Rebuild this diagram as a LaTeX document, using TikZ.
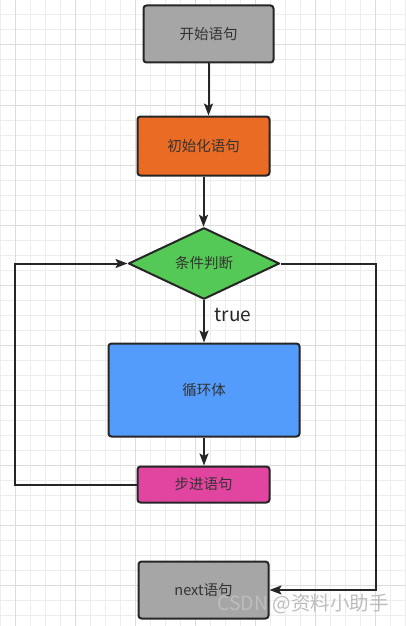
\documentclass[tikz,border=0pt]{standalone}
\usepackage{fontspec}
\newfontfamily\cjk{Noto Sans CJK SC}
\usepackage{tikz}
\usetikzlibrary{arrows.meta, shapes.geometric, calc, positioning}
\definecolor{linedark}{HTML}{262626}
\definecolor{textdark}{HTML}{333333}
\definecolor{gridminor}{HTML}{EDEDED}
\definecolor{gridmajor}{HTML}{DCDCDC}
\definecolor{startgray}{HTML}{A6A6A6}
\definecolor{initorange}{HTML}{EA6B24}
\definecolor{condgreen}{HTML}{55C955}
\definecolor{bodyblue}{HTML}{539CFC}
\definecolor{steppink}{HTML}{E245A0}
\definecolor{wmgray}{HTML}{BDBDBD}

\begin{document}
\begin{tikzpicture}[x=1pt, y=-1pt,
    box/.style={draw=linedark, line width=2pt, rounded corners=3pt, inner sep=0pt,
        font=\cjk\fontsize{14.5}{17}\selectfont, text=textdark},
    link/.style={draw=linedark, line width=2pt, -{Stealth[length=12pt, width=9pt, inset=2.5pt]}},
    label/.style={font=\cjk\fontsize{19}{22}\selectfont, text=linedark, inner sep=0pt},
    watermark/.style={font=\cjk\fontsize{19.5}{22}\selectfont, text=wmgray, inner sep=0pt}]

    \useasboundingbox (0,0) rectangle (405,626);
    \fill[white] (0,0) rectangle (405,626);

    \foreach \x in {0,15,...,405} \draw[gridminor, line width=1pt] (\x,0) -- (\x,626);
    \foreach \y in {0,15,...,615} \draw[gridminor, line width=1pt] (0,\y) -- (405,\y);
    \foreach \x in {15,75,...,375} \draw[gridmajor, line width=1pt] (\x,0) -- (\x,626);
    \foreach \y in {45,105,...,585} \draw[gridmajor, line width=1pt] (0,\y) -- (405,\y);

    \coordinate (leftrail) at (15,0);
    \coordinate (rightrail) at (376,0);

    \node[box, fill=startgray, minimum width=130pt, minimum height=57pt] (start) at (208.5,34) {开始语句};
    \node[box, fill=initorange, minimum width=132pt, minimum height=59pt] (init) at (203.5,146) {初始化语句};
    \node[box, diamond, rounded corners=0pt, line join=round, fill=condgreen,
        minimum width=151pt, minimum height=66pt] (cond) at (204,263.5) {条件判断};
    \node[label] (truelbl) at (233,315) {true};
    \node[box, fill=bodyblue, minimum width=191pt, minimum height=93pt] (body) at (204,390) {循环体};
    \node[box, fill=steppink, minimum width=132pt, minimum height=36pt] (step) at (203.5,484.5) {步进语句};
    \node[box, fill=startgray, minimum width=130pt, minimum height=57pt] (next) at (203.5,590) {next语句};

    \draw[link] (start.south) -- (start.south |- init.north);
    \draw[link] (init.south) -- (init.south |- cond.north);
    \draw[link] (cond.south) -- (cond.south |- body.north);
    \draw[link] (body.south) -- (body.south |- step.north);
    \draw[link] (step.west) -- (step.west -| leftrail) |- (cond.west);
    \draw[link] (cond.east) -- (cond.east -| rightrail) |- (next.east);

    \node[watermark, anchor=west] (wm) at (217,604) {CSDN @资料小助手};
\end{tikzpicture}
\end{document}
